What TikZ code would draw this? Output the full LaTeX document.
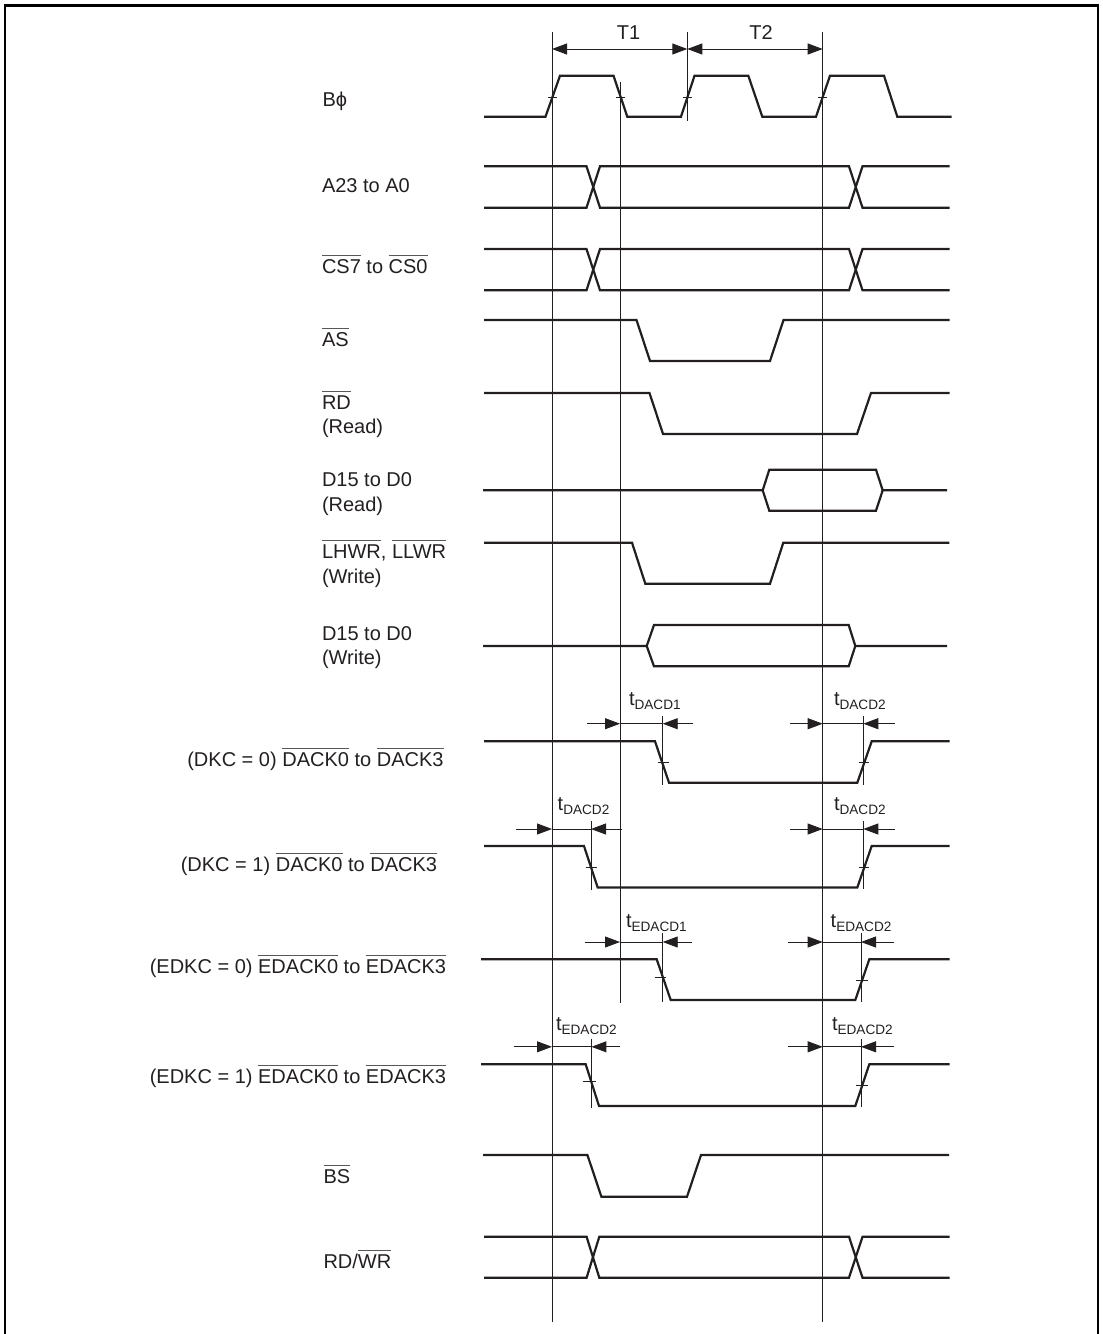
\documentclass[tikz,border=0pt]{standalone}
\usepackage{fontspec}
\setmainfont{Liberation Sans}
\usetikzlibrary{arrows.meta}
\definecolor{ink}{HTML}{231F20}
\newsavebox{\ovlbox}
\newcommand{\ovl}[1]{\sbox{\ovlbox}{#1}\rlap{\textcolor{ink!75}{\rule[17.6pt]{\wd\ovlbox}{0.9pt}}}\usebox{\ovlbox}}
\newcommand{\tsub}[1]{t\raisebox{-4pt}{\fontsize{13.6}{14}\selectfont #1}}
\tikzset{
  x=1pt,y=-1pt,
  sig/.style={line width=2.2pt,color=ink,line join=miter},
  thin guide/.style={line width=1pt,color=ink},
  frameline/.style={line width=2.7pt,color=black,line join=miter},
  dimhead/.style={line width=0.9pt,color=ink,-{Triangle[length=15pt,width=11pt]}},
  dimboth/.style={line width=0.9pt,color=ink,{Triangle[length=15pt,width=11pt]}-{Triangle[length=15pt,width=11pt]}},
  dimline/.style={line width=0.9pt,color=ink},
  tick/.style={line width=0.9pt,color=ink},
  lab/.style={anchor=base west,inner sep=0pt,outer sep=0pt,font=\fontsize{20}{24}\selectfont,text=ink},
  labr/.style={anchor=base east,inner sep=0pt,outer sep=0pt,font=\fontsize{20}{24}\selectfont,text=ink},
}
% y, arrow start left, left tip, right tip, arrow start right
\newcommand{\dimpair}[5]{%
  \draw[dimhead] (#2,#1) -- (#3,#1);
  \draw[dimline] (#3,#1) -- (#4,#1);
  \draw[dimhead] (#5,#1) -- (#4,#1);
}
% bus with crossing: y1, y2, x0, a, b, c, d, x1
\newcommand{\busx}[8]{%
  \draw[sig] (#3,#1) -- (#4,#1) -- (#5,#2) -- (#6,#2) -- (#7,#1) -- (#8,#1);
  \draw[sig] (#3,#2) -- (#4,#2) -- (#5,#1) -- (#6,#1) -- (#7,#2) -- (#8,#2);
}
\begin{document}
\begin{tikzpicture}
\useasboundingbox (0,0) rectangle (1103,1334);
% frame
\draw[frameline] (5,1336) -- (5,5.7) -- (1098,5.7) -- (1098,1336);
% guides
\draw[thin guide] (552,32) -- (552,1322);
\draw[thin guide] (620,82) -- (620,1003);
\draw[thin guide] (687.3,32) -- (687.3,121);
\draw[thin guide] (822.7,32) -- (822.7,1322);
% T1 T2
\draw[dimboth] (552,49) -- (687.3,49);
\draw[dimboth] (687.3,49) -- (822.7,49);
\node[lab,anchor=base] (tone) at (628.5,39) {T1};
\node[lab,anchor=base] (ttwo) at (761,39) {T2};
% B phi
\draw[sig] (484,116.7) -- (545.5,116.7) -- (560,75.7) -- (613.5,75.7) -- (627.3,116.7) -- (681,116.7) -- (694.5,75.7) -- (748.3,75.7) -- (762.3,116.7) -- (816,116.7) -- (830,75.7) -- (884,75.7) -- (897.3,116.7) -- (951.5,116.7);
\draw[tick] (548,97) -- (557,97);
\draw[tick] (616,97) -- (625,97);
\draw[tick] (683,97) -- (691.5,97);
\draw[tick] (818,97) -- (827,97);
% address, CS
\busx{166.3}{207.7}{484}{586.5}{600}{849}{862.5}{949.5}
\busx{249}{290.3}{484}{586.5}{600}{849}{862.5}{949.5}
% AS
\draw[sig] (484,320) -- (636.5,320) -- (650,361) -- (770,361) -- (783.5,320) -- (949.5,320);
% RD
\draw[sig] (484,393) -- (649.5,393) -- (663,434) -- (857,434) -- (871,393) -- (949.5,393);
% D read
\draw[sig] (483,490.3) -- (762.7,490.3) -- (769.3,469.7) -- (876,469.7) -- (882.7,490.3) -- (947,490.3);
\draw[sig] (762.7,490.3) -- (769.3,510.7) -- (876,510.7) -- (882.7,490.3);
% LHWR
\draw[sig] (484,542.7) -- (632,542.7) -- (645.3,583.7) -- (770,583.7) -- (783.3,542.7) -- (949.3,542.7);
% D write
\draw[sig] (483,646) -- (646.7,646) -- (654,625) -- (848.7,625) -- (855.3,646) -- (947,646);
\draw[sig] (646.7,646) -- (654,666.3) -- (848.7,666.3) -- (855.3,646);
% DKC=0
\draw[sig] (484,741.3) -- (655,741.3) -- (669,782.7) -- (857.3,782.7) -- (871.7,741.3) -- (949.5,741.3);
\draw[thin guide] (662.7,716) -- (662.7,784.7);
\draw[thin guide] (863.3,716) -- (863.3,784.7);
\draw[tick] (658,762) -- (668.5,762);
\draw[tick] (858.5,762) -- (868.5,762);
\dimpair{723.7}{587}{620}{662.7}{693}
\dimpair{723.7}{790}{822.7}{863.3}{895}
\node[lab] (tdacda) at (629,705) {\tsub{DACD1}};
\node[lab] (tdacdb) at (834,705) {\tsub{DACD2}};
% DKC=1
\draw[sig] (484,846) -- (584,846) -- (597.7,887.5) -- (857.3,887.5) -- (871.7,846) -- (949.5,846);
\draw[thin guide] (591,821) -- (591,890);
\draw[thin guide] (863.3,821) -- (863.3,888.5);
\draw[tick] (585.5,867.5) -- (597,867.5);
\draw[tick] (858.5,867.5) -- (868.5,867.5);
\dimpair{829}{515.7}{552}{591}{622}
\dimpair{829}{790}{822.7}{863.3}{895}
\node[lab] (tdacdc) at (557.7,810) {\tsub{DACD2}};
\node[lab] (tdacdd) at (834,810) {\tsub{DACD2}};
% EDKC=0
\draw[sig] (481,959.3) -- (656.7,959.3) -- (670.7,1000) -- (855.3,1000) -- (869.3,959.3) -- (949.5,959.3);
\draw[thin guide] (662.7,933) -- (662.7,1001.7);
\draw[thin guide] (861,933) -- (861,1002);
\draw[tick] (654.7,977) -- (666,977);
\draw[tick] (856,980.3) -- (868.3,980.3);
\dimpair{942}{584.6}{620}{662.7}{691.5}
\dimpair{942}{788.3}{822.7}{861}{893.5}
\node[lab] (tedacda) at (626,927) {\tsub{EDACD1}};
\node[lab] (tedacdb) at (830.7,927) {\tsub{EDACD2}};
% EDKC=1
\draw[sig] (481,1064.3) -- (585.7,1064.3) -- (599,1106) -- (855.3,1106) -- (869.3,1064.3) -- (949.5,1064.3);
\draw[thin guide] (591.4,1038.5) -- (591.4,1107.7);
\draw[thin guide] (861,1039) -- (861,1107);
\draw[tick] (583,1081.7) -- (596,1081.7);
\draw[tick] (856,1085) -- (868.3,1085);
\dimpair{1046.8}{513.6}{552}{591.4}{620}
\dimpair{1046.8}{788.3}{822.7}{861}{893.5}
\node[lab] (tedacdc) at (556,1030) {\tsub{EDACD2}};
\node[lab] (tedacdd) at (832,1030) {\tsub{EDACD2}};
% BS
\draw[sig] (483,1155) -- (587.4,1155) -- (601.4,1196.7) -- (687,1196.7) -- (701,1155) -- (949,1155);
% RD/WR
\busx{1236.7}{1277.7}{484}{586.6}{599.3}{849}{862.5}{949.5}
% labels
\node[lab] (lbphi) at (322.5,106.7) {Bϕ};
\node[lab] (laddr) at (322,192) {A23 to A0};
\node[lab] (lcs) at (322,273) {\ovl{CS7} to \ovl{CS0}};
\node[lab] (las) at (322,346) {\ovl{AS}};
\node[lab] (lrd) at (322,409) {\ovl{RD}};
\node[lab] (lrdb) at (322,433) {(Read)};
\node[lab] (ldr) at (322,486.7) {D15 to D0};
\node[lab] (ldrb) at (322,511.7) {(Read)};
\node[lab] (lwr) at (322,558) {\ovl{LHWR}, \ovl{LLWR}};
\node[lab] (lwrb) at (322,583) {(Write)};
\node[lab] (ldw) at (322,640.7) {D15 to D0};
\node[lab] (ldwb) at (322,664.5) {(Write)};
\node[labr] (ldk) at (443.5,766) {(DKC = 0) \ovl{DACK0} to \ovl{DACK3}};
\node[labr] (ldkb) at (437,871) {(DKC = 1) \ovl{DACK0} to \ovl{DACK3}};
\node[labr] (led) at (446,973) {(EDKC = 0) \ovl{EDACK0} to \ovl{EDACK3}};
\node[labr] (ledb) at (446,1083) {(EDKC = 1) \ovl{EDACK0} to \ovl{EDACK3}};
\node[lab] (lbs) at (323.5,1183) {\ovl{BS}};
\node[lab] (lrw) at (323.5,1268) {RD/\ovl{WR}};
\end{tikzpicture}
\end{document}
